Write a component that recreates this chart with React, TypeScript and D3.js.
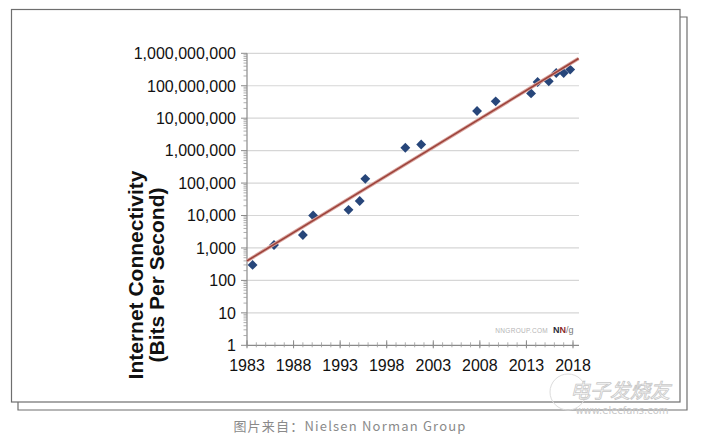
import React from 'react';
import * as d3 from 'd3';

// values (year, bits per second)
const years = [1983.6, 1985.9, 1989.0, 1990.1, 1993.9, 1995.1, 1995.7, 2000.0, 2001.7, 2007.7, 2009.7, 2013.5, 2014.2, 2015.4, 2016.2, 2017.0, 2017.7];
const speeds = [300, 1230, 2500, 10000, 15000, 28000, 135000, 1230000, 1550000, 16600000, 33000000, 58000000, 130000000, 137000000, 247000000, 245000000, 315000000];

// trend line end points
const trendYears = [1983, 2018.6];
const trendSpeeds = [400, 690000000];

const yearTicks = [1983, 1988, 1993, 1998, 2003, 2008, 2013, 2018];
const speedTicks = [1, 10, 100, 1000, 10000, 100000, 1000000, 10000000, 100000000, 1000000000];

const W = 701;
const H = 434;

const App: React.FC = () => {
  const x = d3.scaleLinear().domain([1983, 2018]).range([247, 573]);
  const y = d3.scaleLog().domain([1, 1e9]).range([345.3, 53.3]);
  const fmt = d3.format(',');

  const minorYears = d3.range(1983, 2019);
  const minorSpeeds: number[] = [];
  speedTicks.slice(0, -1).forEach(t => {
    for (let k = 2; k < 10; k++) minorSpeeds.push(t * k);
  });

  const trend = d3.line<number>()
    .x((_, i) => x(trendYears[i]))
    .y(d => y(d));

  const diamond = d3.symbol().type(d3.symbolDiamond2).size(62)();

  return (
    <svg width={W} height={H} style={{ position: 'absolute', left: 0, top: 0, background: '#fff' }}
      fontFamily="'Liberation Sans', Arial, sans-serif">
      {/* frames */}
      <polyline points="680,17 687,17 687,410 18,410 18,402" fill="none" stroke="#6e6e6e" strokeWidth={1.2} />
      <rect x={11.5} y={9.5} width={668.5} height={392.5} fill="#fff" stroke="#6e6e6e" strokeWidth={1.2} />

      {/* grid */}
      {speedTicks.slice(1).map(t => (
        <line key={'g' + t} x1={247} x2={579} y1={y(t)} y2={y(t)} stroke="#d6d6d6" strokeWidth={1.2} />
      ))}

      {/* y axis */}
      <line x1={247} x2={247} y1={y(1e9)} y2={y(1)} stroke="#8a8a8a" strokeWidth={1.2} />
      {minorSpeeds.map(t => (
        <line key={'ym' + t} x1={243.5} x2={247} y1={y(t)} y2={y(t)} stroke="#9a9a9a" strokeWidth={0.8} />
      ))}
      {speedTicks.map(t => (
        <g key={'yt' + t}>
          <line x1={241} x2={247} y1={y(t)} y2={y(t)} stroke="#8a8a8a" strokeWidth={1} />
          <text x={236} y={y(t)} dy="0.36em" textAnchor="end" fontSize={16} fill="#111">{fmt(t)}</text>
        </g>
      ))}

      {/* x axis */}
      <line x1={247} x2={579} y1={y(1)} y2={y(1)} stroke="#8a8a8a" strokeWidth={1.2} />
      {minorYears.map(t => (
        <line key={'xm' + t} x1={x(t)} x2={x(t)} y1={y(1) - 3} y2={y(1) + 2} stroke="#9a9a9a" strokeWidth={0.8} />
      ))}
      {yearTicks.map(t => (
        <g key={'xt' + t}>
          <line x1={x(t)} x2={x(t)} y1={y(1) - 5} y2={y(1) + 3} stroke="#8a8a8a" strokeWidth={1} />
          <text x={x(t)} y={371} textAnchor="middle" fontSize={16} fill="#111">{t}</text>
        </g>
      ))}

      {/* axis title */}
      <text transform="translate(143,275) rotate(-90)" textAnchor="middle" fontSize={21} fontWeight="bold" fill="#111">
        Internet Connectivity
      </text>
      <text transform="translate(164,275) rotate(-90)" textAnchor="middle" fontSize={21} fontWeight="bold" fill="#111">
        (Bits Per Second)
      </text>

      {/* points */}
      {years.map((yr, i) => (
        <path key={'p' + i} d={diamond ?? ''} transform={`translate(${x(yr)},${y(speeds[i])})`} fill="#27467a" />
      ))}

      {/* trend line */}
      <path d={trend(trendSpeeds) ?? ''} fill="none" stroke="#d9a39d" strokeWidth={3.4} />
      <path d={trend(trendSpeeds) ?? ''} fill="none" stroke="#9c423a" strokeWidth={1.6} />

      {/* source marks */}
      <text x={548} y={333} textAnchor="end" fontSize={6.5} fill="#b5b5b5" letterSpacing={0.3}>NNGROUP.COM</text>
      <text x={553} y={333} fontSize={9} fontWeight="bold" fill="#2a2a3a">N<tspan fill="#8b2a2a">N</tspan><tspan fill="#777" fontWeight="normal">/g</tspan></text>

      {/* watermark */}
      <circle cx={568} cy={392} r={18} fill="none" stroke="#dcdcdc" strokeWidth={1} />
      <text x={620} y={398} textAnchor="middle" fontSize={20} fontStyle="italic" fontFamily="'Noto Sans CJK SC', sans-serif"
        fill="#fff" stroke="#c8c8c8" strokeWidth={0.8}>电子发烧友</text>
      <text x={622} y={414} textAnchor="middle" fontSize={10} fill="#c8c8c8" fontFamily="'DejaVu Sans', sans-serif">www.elecfans.com</text>

      {/* caption */}
      <text x={350} y={431} textAnchor="middle" fontSize={13} fill="#8a8a8a" letterSpacing={1.2}
        fontFamily="'Noto Sans CJK SC', 'Noto Sans', sans-serif">图片来自：Nielsen Norman Group</text>
    </svg>
  );
};

export default App;
